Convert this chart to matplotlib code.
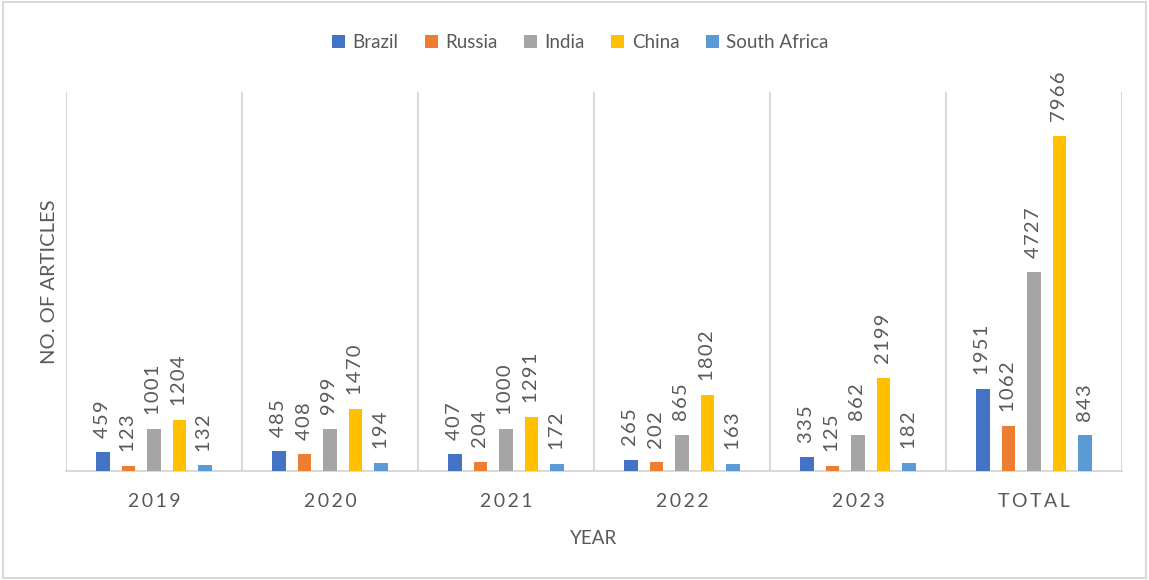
import numpy as np
import matplotlib as mpl
mpl.use('Agg')
import matplotlib.pyplot as plt
from matplotlib.patches import Rectangle

years = ['2019', '2020', '2021', '2022', '2023', 'TOTAL']
countries = ['Brazil', 'Russia', 'India', 'China', 'South Africa']
brazil = [459, 485, 407, 265, 335, 1951]
russia = [123, 408, 204, 202, 125, 1062]
india = [1001, 999, 1000, 865, 862, 4727]
china = [1204, 1470, 1291, 1802, 2199, 7966]
south_africa = [132, 194, 172, 163, 182, 843]
colors = ['#4472C4', '#ED7D31', '#A5A5A5', '#FFC000', '#5B9BD5']

txt = '#595959'
grid = '#D9D9D9'
plt.rcParams['font.family'] = ['Lato', 'DejaVu Sans']

fig = plt.figure(figsize=(11.49, 5.80), dpi=100)
ax = fig.add_axes([0.0574, 0.188, 0.9191, 0.6534])

series = [brazil, russia, india, china, south_africa]
x = np.arange(len(years))
slot = 0.145
width = 0.077
for i, (name, vals) in enumerate(zip(countries, series)):
    pos = x + (i - 2) * slot
    ax.bar(pos, vals, width, color=colors[i], label=name, zorder=3)
    for px, v in zip(pos, vals):
        ax.annotate('\u200a'.join(str(v)), (px, v), xytext=(0, 10),
                    textcoords='offset points', rotation=90, ha='center',
                    va='bottom', fontsize=14.5, color=txt)

ax.set_xlim(-0.5, len(years) - 0.5)
ax.set_ylim(0, 9000)
for b in np.arange(-0.5, len(years), 1.0):
    ax.axvline(b, color=grid, lw=1.5, zorder=1)

for s in ['top', 'right', 'left']:
    ax.spines[s].set_visible(False)
ax.spines['bottom'].set_color(grid)
ax.spines['bottom'].set_linewidth(1.5)
ax.set_yticks([])
ax.set_xticks(x)
ax.set_xticklabels(['\u2009'.join(y) for y in years], fontsize=14, color=txt)
ax.tick_params(axis='x', length=0, pad=16)

ax.set_xlabel('YEAR', fontsize=13.5, color=txt, labelpad=14)
ax.set_ylabel('NO. OF ARTICLES', fontsize=14.5, color=txt, labelpad=6)

fig.legend(loc='upper center', bbox_to_anchor=(0.505, 0.97), ncol=5,
           frameon=False, fontsize=13.5, handlelength=0.7, handleheight=0.7,
           handletextpad=0.4, columnspacing=1.4, labelcolor=txt)

fig.patches.append(Rectangle((0.003, 0.004), 0.994, 0.992, transform=fig.transFigure,
                             fill=False, edgecolor='#D9D9D9', lw=1.5))

fig.savefig('out.png', dpi=100)
plt.close()
